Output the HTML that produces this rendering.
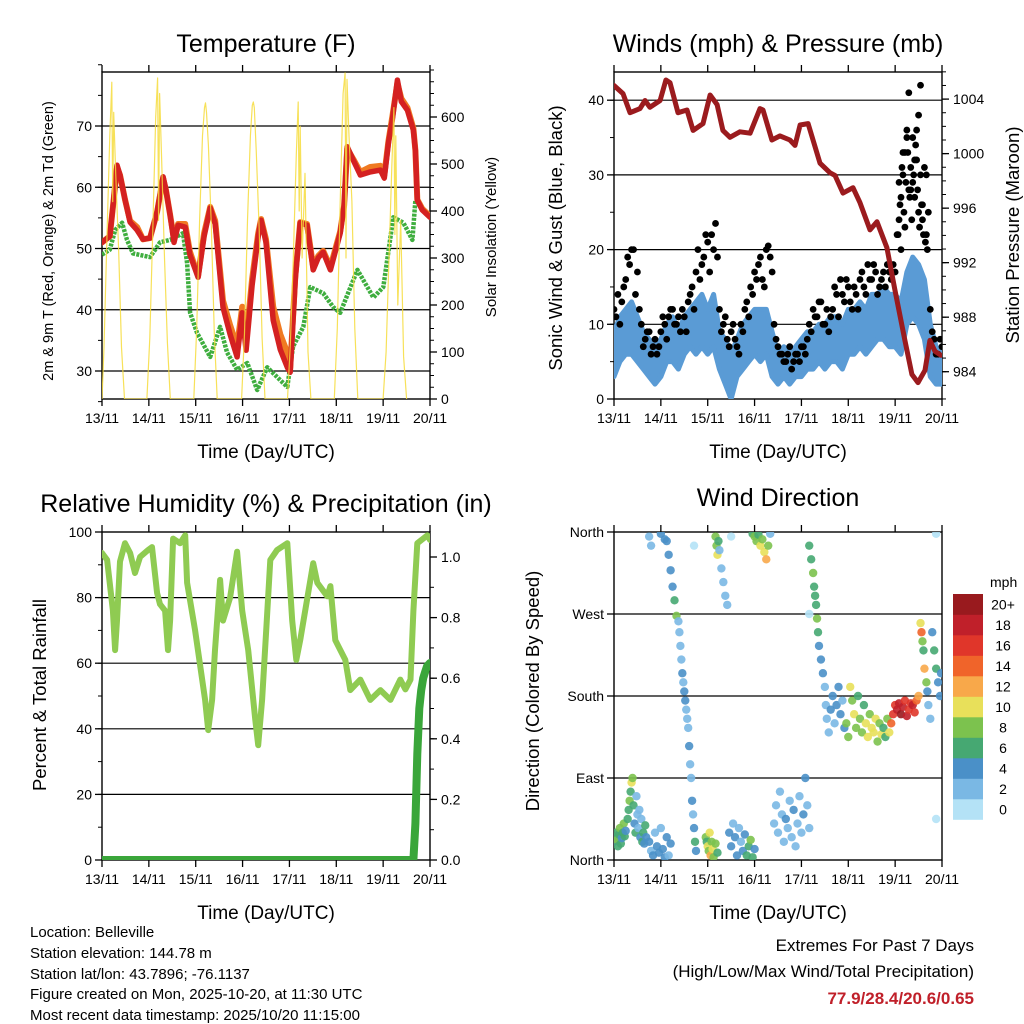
<!DOCTYPE html>
<html><head><meta charset="utf-8"><style>
html,body{margin:0;padding:0;background:#fff;}
svg{display:block;font-family:"Liberation Sans",Arial,sans-serif;}
</style></head><body>
<svg id="chart" width="1024" height="1024" viewBox="0 0 1024 1024" xmlns="http://www.w3.org/2000/svg">
<rect x="0" y="0" width="1024" height="1024" fill="#fff"/>
<defs>
<clipPath id="c1"><rect x="102" y="72" width="328" height="327"/></clipPath>
<clipPath id="c2"><rect x="614" y="72" width="328" height="327"/></clipPath>
<clipPath id="c3"><rect x="102" y="532" width="328" height="328"/></clipPath>
<clipPath id="c4"><rect x="614" y="532" width="328" height="328"/></clipPath>
</defs>
<text x="266" y="52" font-size="25" text-anchor="middle">Temperature (F)</text>
<text x="778" y="52" font-size="25" text-anchor="middle">Winds (mph) &amp; Pressure (mb)</text>
<text x="266" y="512" font-size="25" text-anchor="middle">Relative Humidity (%) &amp; Precipitation (in)</text>
<text x="778" y="506" font-size="25" text-anchor="middle">Wind Direction</text>
<text x="266" y="458" font-size="19" text-anchor="middle">Time (Day/UTC)</text>
<text x="778" y="458" font-size="19" text-anchor="middle">Time (Day/UTC)</text>
<text x="266" y="919" font-size="19" text-anchor="middle">Time (Day/UTC)</text>
<text x="778" y="919" font-size="19" text-anchor="middle">Time (Day/UTC)</text>
<text transform="translate(53,241) rotate(-90)" font-size="14.5" text-anchor="middle">2m &amp; 9m T (Red, Orange) &amp; 2m Td (Green)</text>
<text transform="translate(496,237) rotate(-90)" font-size="15" text-anchor="middle">Solar Insolation (Yellow)</text>
<text transform="translate(562,238) rotate(-90)" font-size="18.5" text-anchor="middle">Sonic Wind &amp; Gust (Blue, Black)</text>
<text transform="translate(1019,235) rotate(-90)" font-size="18.5" text-anchor="middle">Station Pressure (Maroon)</text>
<text transform="translate(46,695) rotate(-90)" font-size="18.5" text-anchor="middle">Percent &amp; Total Rainfall</text>
<text transform="translate(539,691) rotate(-90)" font-size="18.5" text-anchor="middle">Direction (Colored By Speed)</text>
<g font-size="15">
<text x="30" y="937">Location: Belleville</text>
<text x="30" y="958">Station elevation: 144.78 m</text>
<text x="30" y="979">Station lat/lon: 43.7896; -76.1137</text>
<text x="30" y="999">Figure created on Mon, 2025-10-20, at 11:30 UTC</text>
<text x="30" y="1020">Most recent data timestamp: 2025/10/20 11:15:00</text>
</g>
<text x="974" y="951" font-size="17" text-anchor="end">Extremes For Past 7 Days</text>
<text x="974" y="977" font-size="17" text-anchor="end">(High/Low/Max Wind/Total Precipitation)</text>
<text x="974" y="1004" font-size="17" font-weight="bold" fill="#c0202a" text-anchor="end">77.9/28.4/20.6/0.65</text>
</svg>
<script>
const dayLabels = ["13/11","14/11","15/11","16/11","17/11","18/11","19/11","20/11"];
// Temperature (hours since 13/11 00Z)
const tempHours = [0,4,6,7.7,9.2,11.8,14.4,18,21,24.6,28.2,31.3,32.8,34.9,36.9,39,42.6,45,49.2,52.3,55.4,58,62,65.6,69.2,71.8,73.8,76.9,80,81.5,84,87.7,91.3,94.9,96.4,99,101.5,105,108.2,110.8,113.3,117,122,124,125.6,128.7,132.3,137.4,142.6,144.6,146.7,148.7,151.3,153.3,156.4,159.5,160.5,161.5,164,168];
const temp2m = [51,52,58,63.6,62,58,54.3,53,51.5,51.7,56,61.7,59.5,55.5,51,53.8,53.5,49,45.3,52,56.6,54,40.4,36,32.3,39.5,33.4,44,52,54.6,51,38.3,33.5,30.6,29.8,45,54.2,53.8,46.5,48.5,49.4,46.5,52.5,57,66.6,64.4,62,62.5,62.8,61.5,67.2,71,77.5,74,72.6,69.3,66,57.9,56.3,55.1];
const temp9m = [51,52,58,63.3,62,58,54.5,53.5,51.5,51.7,56,61.5,59.5,55.5,51.5,54,54,49.5,45.5,52.5,56.8,54.5,41.5,37.5,34,40.5,35,45,52.5,54.8,51.5,40.5,36,33,30.5,45.5,54.3,54,47,48.8,49.6,47,52.8,57,66.3,64.6,62.5,63.3,63.5,62,67.5,71.5,77,74.5,73,69.6,66,58,56.5,55.3];
const dewHours = [0,4,6.7,10.3,12.8,15.9,24.6,29.7,34.9,41.5,43.6,45.1,48.7,55.4,60.5,64.1,69.2,74.4,79.5,84.6,91.3,94.9,97.9,103.1,106.7,113.3,118.5,122,130.8,139,144.1,149.2,154.4,159,160.5,168];
const dew2m = [49,49.8,53,54.2,51.4,49.2,48.6,51,51.4,52.5,47.6,39.5,36.2,32.3,37.2,33,30.2,31.3,26.9,30.6,28.5,27.4,34,37.2,43.7,42.7,40.4,39.5,46.5,42,43.7,55.1,54.2,51.4,57.9,55.1];
const solarHours = [0,1,2.5,4,5,5.5,6,7,8.5,10,11.5, 23,24.5,26,27.5,28.5,29,29.5,30.5,32,33.5,35, 47,48.5,50,51.5,52.5,53,53.5,54.5,56,57.5,59, 71.5,73,74.5,76,77,77.5,78,79,80.5,82,83.5, 95,96.5,98,99.5,100.5,101,101.5,102.5,104,105.5,107, 119,120.5,122,123.5,124.5,125,125.5,126.5,128,129.5,131, 144,145.5,147,148.5,149.5,150,150.5,151.5,153,154.5,156];
const solarWm2 = [0,110,340,560,674,420,610,480,320,110,0, 0,130,360,600,683,380,650,520,300,120,0, 0,150,380,560,620,630,610,540,370,140,0, 0,140,380,560,625,632,620,530,360,130,0, 0,120,300,520,632,400,580,300,480,100,0, 0,150,420,650,694,300,680,560,420,150,0, 0,100,300,500,620,350,560,200,380,90,0];
// Winds
const windHours = [0,3,6,9,12,15,18,21,24,27,30,33,36,39,42,45,48,51,54,57,60,63,66,69,72,75,78,81,84,87,90,93,96,99,102,105,108,111,114,117,120,123,126,129,132,135,138,141,144,147,150,153,156,159,162,165,168];
const windLow = [3,5,6,6,5,4,3,2,3,5,5,4,6,7,6,7,6,7,4,2,0,3,4,5,6,5,6,3,2,3,2,3,3,4,4,5,4,5,5,4,6,6,7,6,7,8,8,7,7,6,10,11,10,8,3,2,2];
const windHigh = [9,11,12,13,11,9,8,7,8,10,11,9,11,12,13,14,12,14,9,8,6,8,10,11,12,12,12,9,6,7,6,7,8,9,9,10,10,11,11,10,12,12,13,12,14,14,15,14,14,13,17,19,18,16,10,7,6];
const gustEvenHours = [0,2,4,6,8,10,12,14,16,18,20,22,24,26,28,30,32,34,36,38,40,42,44,46,48,50,52,54,56,58,60,62,64,66,68,70,72,74,76,78,80,82,84,86,88,90,92,94,96,98,100,102,104,106,108,110,112,114,116,118,120,122,124,126,128,130,132,134,136,138,140,142,144,146,148,150,152,154,156,158,160,162,164,166,168];
const gustEven = [12,14,13,16,18,20,17,10,8,9,7,6,9,10,11,12,10,9,11,13,15,17,16,19,21,22,23.5,12,10,8,9,8,6,9,13,15,17,18,16,20,19,10,7,6,5,7,5,6,7,6,10,12,11,13,10,9,12,14,16,13,15,12,14,16,15,18,16,17,15,17,18,16,17,24,30,35,28,32,38,26,30,12,8,6,7];
const gustOddHours = [1,3,5,7,9,11,13,15,17,19,21,23,25,27,29,31,33,35,37,39,41,43,45,47,49,51,53,55,57,59,61,63,65,67,69,71,73,75,77,79,81,83,85,87,89,91,93,95,97,99,101,103,105,107,109,111,113,115,117,119,121,123,125,127,129,131,133,135,137,139,141,143,145,147,149,151,153,155,157,159,161,163,165,167];
const gustOdd = [11,10,15,19,20,14,12,7,9,6,8,7,11,8,12,10,11,12,9,14,12,20,18,22,17,20,19,9,11,7,10,7,10,12,11,14,16,19,15,20.5,17,8,6,5,6,4,6,5,7,8,9,11,13,10,12,11,15,11,14,16,13,15,12,17,14,16,18,14,16,15,17,18,22,27,33,41,29,36,42,31,25,9,6,8];
const gustBurstHours = [145.5,146.5,147.5,148.5,149.5,150.5,151.5,152.5,153.5,154.5,155.5,156.5,157.5,158.5,159.5,160.5,146,148,150,152,154,156,158,160,147,149,151,153,155,157];
const gustBurst = [22,26,31,25,29,33,27,24,30,34,28,23,26,22,21,20,29,33,36,31,27,25,24,22,20,23,28,35,32,30];
const pressHours = [0,4.6,8.2,13.3,15.9,18.4,23.6,26.6,28.7,32.8,37.4,40.5,45.6,49.2,52.8,55.8,59.4,64.5,69.7,74.8,76.3,80.9,85,90.1,92.7,95.3,99.4,105.5,110.6,113.2,117.3,122.4,126,131.1,134.7,139.8,143.9,149,152.6,155.7,159.3,161.8,164.4,167.5];
const pressMb = [1005.0,1004.4,1003.0,1003.3,1003.9,1003.4,1003.9,1005.4,1005.2,1003.0,1003.2,1001.7,1002.2,1004.3,1003.6,1001.7,1001.2,1001.6,1001.5,1003.3,1003.2,1001.0,1001.3,1001.0,1000.6,1002.1,1002.2,999.3,998.6,998.4,997.1,997.5,996.4,994.4,995.0,993.1,990,986.3,983.8,983.2,984.1,986.3,985.5,985.2];
// Humidity & precipitation
const rhHours = [0,2.6,5.6,6.7,7.7,8.2,9.2,11.8,14.4,16.9,19.5,23.6,25.6,28.2,29.7,32.3,33.8,34.9,36.4,40,42.6,43.6,47.7,52.8,54.4,56.4,57.9,60.5,62,65.6,69.2,71.8,74.9,78.5,80,82,84.1,86.2,89.7,94.9,97.4,99.5,101.5,108.2,110.3,115.4,117,119.5,124.6,127.2,132.3,137.4,142.6,147.7,152.8,155.4,158,159.5,161.5,166.7,168];
const rhPct = [93.6,91.5,76,64,73,79,91,96.6,93.6,87.5,92.4,94.5,95.4,81.4,78,76,64,73,98,96.6,99,84.5,70,48.8,39.6,48.8,64,85.4,73,80,94,76,64,42.7,35,48.8,70,91.5,94.5,96.6,73,61,67,90.5,84.5,80.4,83.5,67,61,51.8,55,48.8,51.8,48.8,55,52,55,76,96.6,99,97.6];
const precipHours = [0,159.5,160.5,161.5,162.5,163.5,164.5,165.5,166.5,168];
const precipIn = [0,0,0.12,0.35,0.5,0.56,0.6,0.62,0.64,0.65];
// Wind direction
const dirHours = [0,0.5,1,1.5,2,2.5,3,3.5,4,4.5,5,5.5,6, 7,7.5,8,8.5,9,9.5,10,10.5,11, 11.5,12,12.5,13,13.5,14,14.5,15,15.5,16,16.5, 18,19,20,21,22,23,24,25,26,27,28,29, 18,19,24,26,27,28,29,30,31,32,33, 33.5,34,34.5,35,35.5,36,36.5,37,37.5,38,38.5,39, 39.5,40,40.5,41,41.5,42, 47,47.5,48,48.5,49,49.5,50,50.5,51,52,53, 52,52.5,53,53.5,54,55,56,57,58, 59,60,61,62,63,64,65,66,67,68,69,70,71,72, 71,72,73,74,75,76,77,78,79,80, 82,83,84,85,86,87,88,89,90,91,92,93,94,95,96,97,98,99,100, 100,101,102,102.5,103,103.5,104,104.5,105,106,107,108, 108.5,109,110,111,112,113,114,115,116,117,118, 119,120,121,122,123,124,125,126,127,128,129,130,131,132,133,134,135,136,137,138,139,140,141, 142,143,144,145,146,147,148,149,150,151,152,153,154,155,156, 157,157.5,158,158.5,159,160,160.5,161,162,163,164,165,166,167,167.5, 41,60,100,165,165];
const dirDeg = [20,25,30,22,15,28,35,18,24,30,40,26,32, 45,55,65,75,85,90,60,40,30, 70,50,35,55,25,45,20,30,18,38,25, 20,10,5,30,15,8,35,12,3,25,5,18, 355,345,358,352,350,335,318,300,285,268,262, 250,235,220,205,195,185,175,165,155,145,125,105, 90,65,50,35,20,10, 25,20,15,10,30,5,20,12,3,18,8, 355,345,335,350,340,320,305,290,280, 30,15,40,25,5,35,20,10,28,5,15,22,3,12, 358,355,350,357,345,352,338,330,345,358, 40,60,30,75,50,20,45,35,65,25,55,15,40,70,30,50,90,60,35, 345,330,315,300,290,280,265,250,235,220,205,190, 170,155,140,165,180,150,170,190,160,175,145, 150,135,190,175,160,145,180,155,140,170,150,135,160,145,140,155,130,150,138,145,135,155,140, 150,160,170,165,172,160,168,175,158,165,172,170,162,175,180, 260,250,240,230,210,195,185,170,155,250,230,210,195,180,205, 345,355,270,358,45];
const dirSpeed = [4,6,7,8,6,7,8,6,5,7,8,6,4, 7,6,8,7,10,9,6,5,6, 3,2,3,2,4,3,6,6,5,7,4, 4,2,4,3,4,4,3,5,4,4,3,4, 2,2,4,4,4,4,4,4,6,9,2, 2,2,2,4,3,4,4,2,2,3,4,2, 3,4,2,4,6,4, 8,6,10,8,11,12,8,10,9,8,6, 8,8,10,7,2,2,3,3,2, 4,4,3,4,4,3,2,4,4,6,6,8,6,4, 6,8,8,6,10,8,10,12,8,2, 2,2,3,2,2,3,4,2,2,2,4,2,3,2,2,4,4,3,2, 6,6,8,6,6,6,8,6,4,4,4,2, 2,2,2,4,4,2,4,4,4,2,4, 8,8,10,8,10,8,6,8,8,6,10,10,8,10,10,10,8,8,10,6,6,8,10, 14,16,16,18,18,20,18,16,18,16,16,18,16,14,12, 10,14,8,6,12,8,4,2,2,4,6,6,4,4,4, 0,0,0,0,0];
const speedBinLabels = ["0","2","4","6","8","10","12","14","16","18","20+"];
const speedBinColors = ["#b4e2f6","#7ab8e4","#4a90c8","#46a872","#7cc24e","#e8e05a","#f8a84a","#f0642a","#e0362a","#c0202a","#991a1e"];

const NS="http://www.w3.org/2000/svg";
const svg=document.getElementById('chart');
function mk(tag,attrs,parent){const e=document.createElementNS(NS,tag);for(const k in attrs)e.setAttribute(k,attrs[k]);(parent||svg).appendChild(e);return e;}

const panels={
 temp:{x0:102,x1:430,y0:72,y1:399},
 wind:{x0:614,x1:942,y0:72,y1:399},
 rh:{x0:102,x1:430,y0:532,y1:860},
 dir:{x0:614,x1:942,y0:532,y1:860}
};
function xs(p){return h=>p.x0+h*(p.x1-p.x0)/168;}
const yTemp=v=>371-(v-30)*6.125;
const ySolar=v=>399-v*0.47;
const yWind=v=>399-v*7.47;
const yPress=v=>371.7-(v-984)*13.63;
const yRH=v=>860-v*3.28;
const yPrecip=v=>860-v*303;
const yDir=v=>860-v*328/360;

function gridAndAxes(p,name,leftScale,leftMajors,leftMinors,leftFmt,gridVals,rightScale,rightMajors,rightMinors,rightFmt){
  const g=mk('g',{});
  
  
  gridVals.forEach(v=>{const l=mk('line',{x1:p.x0,x2:p.x1,y1:leftScale(v),y2:leftScale(v),stroke:'#000','stroke-width':1.2},g);
    
    });
  const x=xs(p);
  dayLabels.forEach((lab,i)=>{const xx=x(i*24);
    mk('line',{x1:xx,x2:xx,y1:p.y1,y2:p.y1+7,stroke:'#000','stroke-width':1.3},g);
    mk('line',{x1:xx,x2:xx,y1:p.y0,y2:p.y0-7,stroke:'#000','stroke-width':1.3},g);
    const t=mk('text',{x:xx,y:p.y1+24,'font-size':14,'text-anchor':'middle'},g);t.textContent=lab;
    
    });
  leftMajors.forEach(v=>{const y=leftScale(v);
    mk('line',{x1:p.x0-7,x2:p.x0,y1:y,y2:y,stroke:'#000','stroke-width':1.3},g);
    const t=mk('text',{x:p.x0-10,y:y+5,'font-size':14,'text-anchor':'end'},g);t.textContent=leftFmt(v);
    
    });
  leftMinors.forEach(v=>{const y=leftScale(v);mk('line',{x1:p.x0-4,x2:p.x0,y1:y,y2:y,stroke:'#000','stroke-width':1},g);});
  if(rightScale){
    rightMajors.forEach(v=>{const y=rightScale(v);
      mk('line',{x1:p.x1,x2:p.x1+7,y1:y,y2:y,stroke:'#000','stroke-width':1.3},g);
      const t=mk('text',{x:p.x1+11,y:y+5,'font-size':14},g);t.textContent=rightFmt(v);
      
      });
    rightMinors.forEach(v=>{const y=rightScale(v);mk('line',{x1:p.x1,x2:p.x1+4,y1:y,y2:y,stroke:'#000','stroke-width':1},g);});
  }
  const b=mk('rect',{x:p.x0,y:p.y0,width:p.x1-p.x0,height:p.y1-p.y0,fill:'none',stroke:'#000','stroke-width':1.4},g);
  
  
}
function rng(a,b,s){const r=[];for(let v=a;v<=b+1e-9;v+=s)r.push(+v.toFixed(3));return r;}
function line(hArr,vArr,xf,yf,attrs,clip,nm){
  const pts=hArr.map((h,i)=>xf(h).toFixed(1)+','+yf(vArr[i]).toFixed(1)).join(' ');
  const pl=mk('polyline',Object.assign({points:pts,fill:'none','stroke-linejoin':'round','stroke-linecap':'round','clip-path':'url(#'+clip+')'},attrs));
  
  
  return pl;
}

// Panel 1: temperature
(function(){
 const p=panels.temp,x=xs(p);
 gridAndAxes(p,'temp',yTemp,[30,40,50,60,70],rng(25,80,5),v=>v,[30,40,50,60,70],ySolar,[0,100,200,300,400,500,600],rng(0,700,25),v=>v);
 line(dewHours,dew2m,x,yTemp,{stroke:'#3fae3f','stroke-width':4.5,'stroke-dasharray':'3 1.2','stroke-linecap':'butt'},'c1','dewpoint-2m-line');
 line(tempHours,temp9m,x,yTemp,{stroke:'#f07a22','stroke-width':6},'c1','temp-9m-line');
 line(tempHours,temp2m,x,yTemp,{stroke:'#d42121','stroke-width':5.5},'c1','temp-2m-line');
 line(solarHours,solarWm2,x,ySolar,{stroke:'#f6dc3c','stroke-width':1.2,'stroke-opacity':0.85},'c1','solar-insolation-line');
})();

// Panel 2: winds & pressure
(function(){
 const p=panels.wind,x=xs(p);
 gridAndAxes(p,'wind',yWind,[0,10,20,30,40],rng(0,44,5),v=>v,[10,20,30,40],yPress,[984,988,992,996,1000,1004],rng(982,1006,1),v=>v);
 const top=windHours.map((h,i)=>x(h).toFixed(1)+','+yWind(windHigh[i]).toFixed(1));
 const bot=windHours.map((h,i)=>x(h).toFixed(1)+','+yWind(windLow[i]).toFixed(1)).reverse();
 const band=mk('polygon',{points:top.concat(bot).join(' '),fill:'#5a9bd5',stroke:'#5a9bd5','stroke-width':5,'stroke-linejoin':'round','clip-path':'url(#c2)'});
 
 
 const gg=mk('g',{'clip-path':'url(#c2)',fill:'#000'});
 
 
 [[gustEvenHours,gustEven],[gustOddHours,gustOdd],[gustBurstHours,gustBurst]].forEach(([hs,vs])=>{
   hs.forEach((h,i)=>{const c=mk('circle',{cx:x(h),cy:yWind(vs[i]),r:3.4},gg);
     
     });
 });
 line(pressHours,pressMb,x,yPress,{stroke:'#9b1b1e','stroke-width':5},'c2','station-pressure-line');
})();

// Panel 3: RH & precip
(function(){
 const p=panels.rh,x=xs(p);
 gridAndAxes(p,'rh',yRH,[0,20,40,60,80,100],rng(0,100,10),v=>v,[20,40,60,80],yPrecip,[0,0.2,0.4,0.6,0.8,1.0],rng(0,1.05,0.1),v=>v.toFixed(1));
 line(rhHours,rhPct,x,yRH,{stroke:'#8fcb52','stroke-width':6},'c3','relative-humidity-line');
 line(precipHours,precipIn,x,yPrecip,{stroke:'#3aa63a','stroke-width':8},'c3','precipitation-line');
})();

// Panel 4: wind direction
(function(){
 const p=panels.dir,x=xs(p);
 const names={0:'North',90:'East',180:'South',270:'West',360:'North'};
 gridAndAxes(p,'dir',yDir,[0,90,180,270,360],[],v=>names[v],[90,180,270],null);
 const gg=mk('g',{'clip-path':'url(#c4)','fill-opacity':0.9});
 
 
 dirHours.forEach((h,i)=>{const bin=Math.min(10,Math.floor(dirSpeed[i]/2));
   const c=mk('circle',{cx:x(h),cy:yDir(dirDeg[i]),r:4.2,fill:speedBinColors[bin]},gg);
   
   });
 const lg=mk('g',{});
 
 
 const t=mk('text',{x:990,y:587,'font-size':14,'text-anchor':'start'},lg);t.textContent='mph';
 
 
 const h=20.5;
 speedBinLabels.forEach((lab,i)=>{const y=594+(10-i)*h;
   const r=mk('rect',{x:953,y:y,width:30,height:h+0.3,fill:speedBinColors[i]},lg);
   
   
   const tt=mk('text',{x:1003,y:y+h/2+5,'font-size':14,'text-anchor':'middle'},lg);tt.textContent=lab;
   
   });
})();
</script>
</body></html>
